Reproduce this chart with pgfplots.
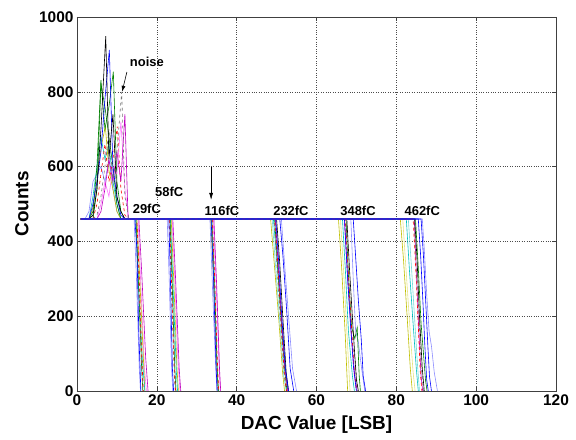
\documentclass[border=0pt]{standalone}
\usepackage{fontspec}
\setmainfont{Liberation Sans}
\usepackage{pgfplots}
\pgfplotsset{compat=1.18}
\usetikzlibrary{arrows.meta}

\definecolor{mblue}{rgb}{0,0,1}
\definecolor{mgreen}{rgb}{0,0.5,0}
\definecolor{mred}{rgb}{1,0,0}
\definecolor{mcyan}{rgb}{0,0.75,0.75}
\definecolor{mmag}{rgb}{0.75,0,0.75}
\definecolor{myel}{rgb}{0.75,0.75,0}
\definecolor{mgray}{rgb}{0.45,0.45,0.45}
\definecolor{lblue}{rgb}{0.55,0.55,1}
\definecolor{lpink}{rgb}{1,0.45,1}
\definecolor{lcyan}{rgb}{0.45,0.85,0.85}
\definecolor{lyel}{rgb}{0.9,0.9,0.5}

\pgfplotsset{
  cA/.style={mblue},
  cB/.style={mgreen},
  cC/.style={mred, dashed},
  cD/.style={mcyan},
  cE/.style={mmag},
  cF/.style={myel},
  cG/.style={mgray, dashed},
  cH/.style={lblue},
  cI/.style={lpink},
  cJ/.style={lcyan},
  cK/.style={black},
  cL/.style={lyel},
}

\begin{document}
\begin{tikzpicture}
\path[use as bounding box] (-77bp,-49bp) rectangle (499bp,391bp);
\begin{axis}[
  scale only axis,
  width=479bp, height=374bp,
  xmin=0, xmax=120, ymin=0, ymax=1000,
  xtick={0,20,...,120}, ytick={0,200,...,1000},
  grid=major,
  grid style={dotted, black!70},
  tick align=inside,
  tick pos=both,
  major tick length=4bp,
  axis line style={black!75},
  every tick/.style={black!75},
  /pgf/number format/assume math mode=true,
  /pgf/number format/1000 sep={},
  ticklabel style={font=\fontsize{15.5}{15.5}\selectfont\bfseries},
  label style={font=\fontsize{19}{19}\selectfont\bfseries},
  xlabel={DAC Value [LSB]},
  ylabel={Counts},
  xlabel style={at={(axis description cs:0.5,-0.09)}, anchor=center},
  ylabel style={at={(axis description cs:-0.115,0.5)}, anchor=center},
  every axis plot/.append style={line width=0.6bp, mark=none},
  clip=true,
]
% noise
\addplot[cH] coordinates {(2,460)(3,480)(4,560)(5,580)(6,600)(7,560)(8,620)(9,540)(10,480)(11,460)};
\addplot[cD] coordinates {(3,460)(4,520)(5,600)(6,680)(7,620)(8,660)(9,560)(10,500)(11,460)};
\addplot[cF] coordinates {(3,460)(4,490)(5,560)(6,650)(7.1,707)(8,590)(9,540)(10,480)(11,460)};
\addplot[cC] coordinates {(4,460)(5,500)(6,580)(7,660)(8,560)(9,620)(10.1,707)(11,540)(12,470)(13,460)};
\addplot[cB] coordinates {(4,460)(5,540)(6,820)(7,760)(8,680)(9,600)(10,500)(11,460)};
\addplot[cB] coordinates {(3,460)(4,480)(5,600)(6,831)(7,700)(8,760)(9.1,854)(10,560)(11,480)(12,460)};
\addplot[cI] coordinates {(5,460)(6,500)(7,560)(8,520)(9,600)(10,580)(11,720)(12,540)(13,460)};
\addplot[cE] coordinates {(5,460)(6,480)(7,540)(8,620)(9,560)(10,640)(11,560)(12,740)(12.8,460)};
\addplot[cG] coordinates {(4,460)(5,470)(6,520)(7,600)(8,700)(9,560)(10,640)(11.2,800)(12,520)(13,460)};
\addplot[cA] coordinates {(3,460)(4,500)(5,560)(6,640)(7,780)(8.1,912)(9,600)(10,520)(11,470)(12,460)};
\addplot[cK] coordinates {(3,460)(4,470)(5,540)(6,700)(7.2,949)(8,620)(9,740)(10,520)(11,480)(12,460)};
% 29 fC
\addplot[cH] coordinates {(1,460)(14.3,460)(14.9,300)(15.6,60)(15.9,0)};
\addplot[cI] coordinates {(1,460)(15.3,460)(16,280)(16.9,60)(17.4,0)};
\addplot[cE] coordinates {(1,460)(15.5,460)(16.2,320)(17.2,90)(17.8,0)};
\addplot[cF] coordinates {(1,460)(15,460)(15.6,330)(16.5,120)(17,0)};
\addplot[cD] coordinates {(1,460)(14.7,460)(15.4,280)(16.4,80)(17,0)};
\addplot[cB] coordinates {(1,460)(14.8,460)(15.5,260)(16.2,60)(16.5,0)};
\addplot[cG] coordinates {(1,460)(14.9,460)(15.5,290)(16.2,60)(16.6,0)};
\addplot[cC] coordinates {(1,460)(15,460)(15.6,300)(16.2,100)(16.6,0)};
\addplot[cA] coordinates {(1,460)(14.5,460)(15,380)(15.5,150)(16,0)};
% 58 fC
\addplot[cH] coordinates {(1,460)(22.6,460)(23.1,300)(23.7,60)(24,0)};
\addplot[cI] coordinates {(1,460)(23.8,460)(24.5,300)(25.3,80)(25.8,0)};
\addplot[cE] coordinates {(1,460)(24,460)(24.7,300)(25.6,60)(26,0)};
\addplot[cF] coordinates {(1,460)(23.6,460)(24.3,280)(25,70)(25.4,0)};
\addplot[cD] coordinates {(1,460)(23.4,460)(24.1,270)(24.9,50)(25.2,0)};
\addplot[cB] coordinates {(1,460)(23.3,460)(23.9,270)(24.5,60)(24.8,0)};
\addplot[cG] coordinates {(1,460)(23.1,460)(23.7,260)(24.4,40)(24.6,0)};
\addplot[cC] coordinates {(1,460)(23.2,460)(23.8,250)(24.4,50)(24.7,0)};
\addplot[cA] coordinates {(1,460)(23,460)(23.4,300)(23.9,60)(24.2,0)};
% 116 fC
\addplot[cH] coordinates {(1,460)(33.3,460)(34,260)(34.8,50)(35.1,0)};
\addplot[cI] coordinates {(1,460)(34.1,460)(34.8,300)(35.6,70)(35.9,0)};
\addplot[cE] coordinates {(1,460)(34.3,460)(35,280)(35.7,60)(36,0)};
\addplot[cF] coordinates {(1,460)(33.5,460)(34.2,300)(35,80)(35.4,0)};
\addplot[cD] coordinates {(1,460)(33.7,460)(34.4,260)(35.2,40)(35.4,0)};
\addplot[cB] coordinates {(1,460)(33.8,460)(34.5,280)(35.1,60)(35.4,0)};
\addplot[cG] coordinates {(1,460)(33.8,460)(34.4,290)(35.1,60)(35.3,0)};
\addplot[cC] coordinates {(1,460)(33.9,460)(34.5,300)(35.2,70)(35.5,0)};
\addplot[cA] coordinates {(1,460)(33.6,460)(34.2,300)(34.8,80)(35.1,0)};
% 232 fC
\addplot[cH] coordinates {(1,460)(51.2,460)(52,340)(53,200)(54,60)(55,0)};
\addplot[cA] coordinates {(1,460)(50.8,460)(51.6,360)(52.5,220)(53.4,60)(54.3,0)};
\addplot[cF] coordinates {(1,460)(48.5,460)(49.5,330)(50.5,200)(51.5,50)(52,0)};
\addplot[cJ] coordinates {(1,460)(48.9,460)(49.7,340)(50.7,200)(51.8,40)(52.4,0)};
\addplot[cD] coordinates {(1,460)(49.2,460)(50,360)(51,220)(52,80)(52.8,0)};
\addplot[cB] coordinates {(1,460)(49.5,460)(50.3,330)(51.2,180)(52,60)(52.6,0)};
\addplot[cE] coordinates {(1,460)(49.7,460)(50.4,340)(51.2,200)(52.1,60)(52.8,0)};
\addplot[cG] coordinates {(1,460)(49.4,460)(50.1,330)(51,180)(51.9,50)(52.4,0)};
\addplot[cK] coordinates {(1,460)(50,460)(50.8,340)(51.6,190)(52.4,50)(53,0)};
\addplot[cC] coordinates {(1,460)(49.6,460)(50.3,340)(51.1,190)(51.9,50)(52.5,0)};
\addplot[cA] coordinates {(1,460)(49.8,460)(50.5,350)(51.3,200)(52.2,60)(53,0)};
% 348 fC
\addplot[cH] coordinates {(1,460)(68.6,460)(69.2,300)(69.8,160)(70.5,130)(71.3,60)(72.1,0)};
\addplot[cA] coordinates {(1,460)(69.2,460)(69.8,360)(70.5,240)(71.2,140)(71.7,40)(72.3,0)};
\addplot[cF] coordinates {(1,460)(65.5,460)(66.3,330)(67.2,150)(67.8,0)};
\addplot[cL] coordinates {(1,460)(66,460)(66.8,320)(67.6,160)(68.4,0)};
\addplot[cD] coordinates {(1,460)(66.5,460)(67.2,330)(68,160)(69,40)(69.5,0)};
\addplot[cE] coordinates {(1,460)(67,460)(67.8,300)(68.8,140)(69.6,40)(70.2,0)};
\addplot[cB] coordinates {(1,460)(67.4,460)(68,310)(68.8,170)(69.6,140)(70.2,170)(70.7,40)(71,0)};
\addplot[cG] coordinates {(1,460)(67.3,460)(68,300)(68.8,150)(69.7,80)(70.3,0)};
\addplot[cK] coordinates {(1,460)(67.6,460)(68.3,320)(69.2,160)(70,30)(70.5,0)};
\addplot[cC] coordinates {(1,460)(67.2,460)(67.9,330)(68.6,200)(69.4,60)(70,0)};
\addplot[cA] coordinates {(1,460)(67,460)(67.7,320)(68.5,180)(69.3,60)(70,0)};
% 462 fC
\addplot[cF] coordinates {(1,460)(81,460)(81.8,350)(82.7,200)(83.5,60)(84,0)};
\addplot[cL] coordinates {(1,460)(81.6,460)(82.4,330)(83.4,170)(84.2,50)(84.7,0)};
\addplot[cD] coordinates {(1,460)(82.5,460)(83.3,320)(84.2,180)(85,60)(85.5,0)};
\addplot[cJ] coordinates {(1,460)(83,460)(83.8,330)(84.6,190)(85.3,70)(85.8,0)};
\addplot[cE] coordinates {(1,460)(84.5,460)(85,320)(85.6,170)(86.2,40)(86.6,0)};
\addplot[cB] coordinates {(1,460)(84.8,460)(85.5,330)(86.2,180)(86.8,100)(87.3,30)(87.7,0)};
\addplot[cG] coordinates {(1,460)(84.4,460)(85,330)(85.7,190)(86.3,60)(86.8,0)};
\addplot[cK] coordinates {(1,460)(84.6,460)(85.2,350)(85.8,200)(86.5,60)(87,0)};
\addplot[cC] coordinates {(1,460)(84.2,460)(84.8,340)(85.4,200)(86,50)(86.4,0)};
\addplot[cH] coordinates {(1,460)(86.5,460)(87,380)(87.6,260)(88.2,160)(88.8,120)(89.5,50)(90.3,0)};
\addplot[cA] coordinates {(1,460)(86.2,460)(86.8,360)(87.4,230)(87.9,120)(88.3,40)(88.8,0)};
\addplot[cA] coordinates {(1,460)(85.5,460)(86.1,360)(86.7,230)(87.1,130)(87.6,30)(88,0)};

% annotations
\tikzset{lab/.style={font=\fontsize{13}{13}\selectfont\bfseries, inner sep=0pt}}
\node[lab] at (axis cs:17.5,880) {noise};
\draw[-{Latex[length=6bp,width=4bp]}, line width=0.6bp] (axis cs:12.5,853) -- (axis cs:11.3,800);
\node[lab] at (axis cs:17.5,487) {29fC};
\node[lab] at (axis cs:23.1,532) {58fC};
\node[lab] at (axis cs:36.3,481) {116fC};
\draw[-{Latex[length=7bp,width=4bp]}, line width=0.6bp] (axis cs:33.6,599) -- (axis cs:33.6,511);
\node[lab] at (axis cs:53.6,481) {232fC};
\node[lab] at (axis cs:70.4,481) {348fC};
\node[lab] at (axis cs:86.5,481) {462fC};
\end{axis}
\end{tikzpicture}
\end{document}
